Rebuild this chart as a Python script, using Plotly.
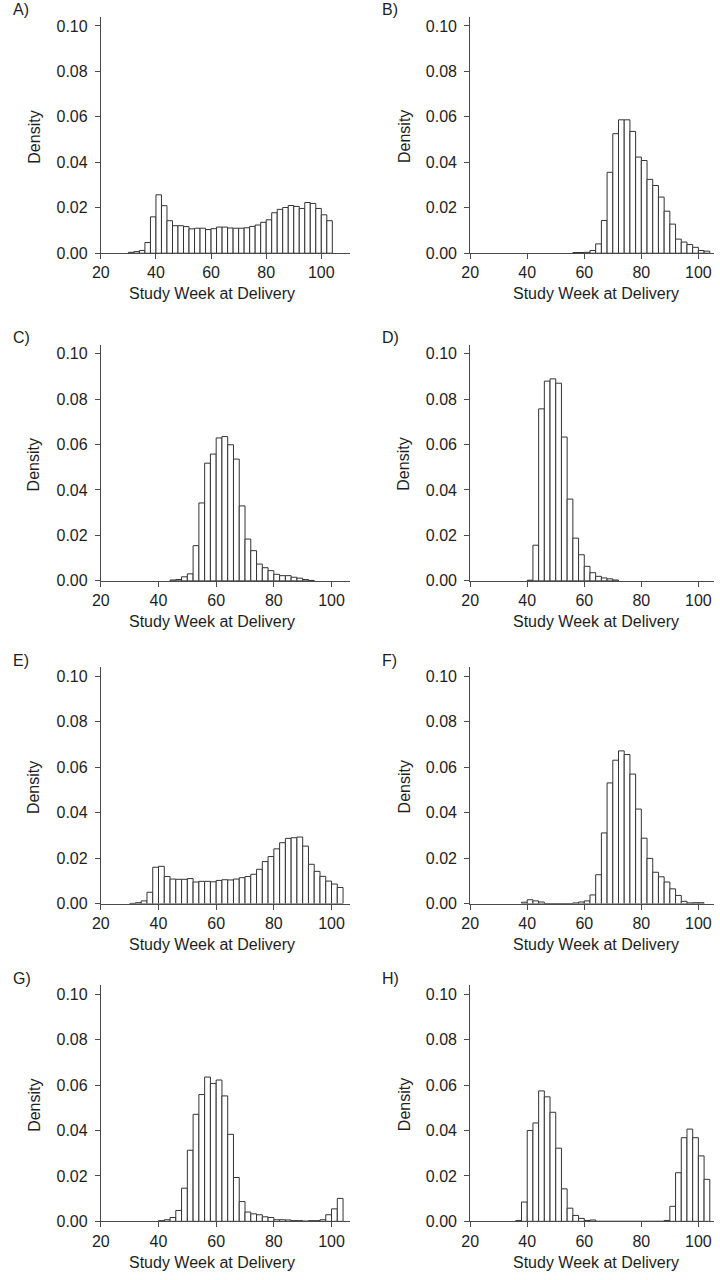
import plotly.graph_objects as go

# ---- Data: histogram densities, bin width 2 weeks; *_start = left edge of first bin ----
bin_width = 2
x_ticks = [20, 40, 60, 80, 100]
y_ticks = [0.00, 0.02, 0.04, 0.06, 0.08, 0.10]
y_tick_labels = ["0.00", "0.02", "0.04", "0.06", "0.08", "0.10"]
panel_labels = ["A)", "B)", "C)", "D)", "E)", "F)", "G)", "H)"]

A_start = 30
A_density = [0.0004, 0.0007, 0.0012, 0.0047, 0.0160, 0.0257, 0.0209, 0.0143, 0.0121, 0.0121,
             0.0117, 0.0107, 0.0110, 0.0110, 0.0104, 0.0108, 0.0115, 0.0115, 0.0111, 0.0110,
             0.0110, 0.0112, 0.0118, 0.0124, 0.0136, 0.0147, 0.0178, 0.0193, 0.0201, 0.0210,
             0.0206, 0.0197, 0.0223, 0.0219, 0.0197, 0.0169, 0.0143]

B_start = 56
B_density = [0.0003, 0.0003, 0.0004, 0.0012, 0.0041, 0.0144, 0.0356, 0.0526, 0.0587, 0.0587,
             0.0536, 0.0423, 0.0408, 0.0325, 0.0298, 0.0247, 0.0185, 0.0128, 0.0062, 0.0049,
             0.0038, 0.0026, 0.0012, 0.0009]

C_start = 44
C_density = [0.0004, 0.0006, 0.0018, 0.0031, 0.0155, 0.0343, 0.0518, 0.0558, 0.0629, 0.0635,
             0.0599, 0.0536, 0.0330, 0.0184, 0.0133, 0.0074, 0.0058, 0.0045, 0.0029, 0.0023,
             0.0023, 0.0016, 0.0012, 0.0006, 0.0002]

D_start = 40
D_density = [0.0003, 0.0157, 0.0757, 0.0879, 0.0889, 0.0870, 0.0633, 0.0360, 0.0188, 0.0115,
             0.0064, 0.0036, 0.0020, 0.0013, 0.0009, 0.0004]

E_start = 30
E_density = [0.0001, 0.0004, 0.0012, 0.0050, 0.0160, 0.0164, 0.0119, 0.0108, 0.0107, 0.0107,
             0.0110, 0.0095, 0.0098, 0.0098, 0.0096, 0.0102, 0.0105, 0.0104, 0.0108, 0.0114,
             0.0119, 0.0129, 0.0151, 0.0185, 0.0207, 0.0241, 0.0268, 0.0287, 0.0290, 0.0293,
             0.0253, 0.0173, 0.0142, 0.0120, 0.0099, 0.0086, 0.0071]

F_start = 38
F_density = [0.0006, 0.0017, 0.0012, 0.0007, 0.0, 0.0, 0.0, 0.0, 0.0,
             0.0003, 0.0007, 0.0012, 0.0038, 0.0127, 0.0311, 0.0531, 0.0631, 0.0672, 0.0656,
             0.0570, 0.0416, 0.0288, 0.0199, 0.0138, 0.0118, 0.0095, 0.0065, 0.0036, 0.0010,
             0.0003, 0.0004, 0.0004]

G_start = 40
G_density = [0.0003, 0.0007, 0.0017, 0.0048, 0.0146, 0.0313, 0.0471, 0.0558, 0.0635, 0.0607,
             0.0622, 0.0552, 0.0383, 0.0193, 0.0087, 0.0041, 0.0033, 0.0029, 0.0020, 0.0017,
             0.0007, 0.0007, 0.0006, 0.0003, 0.0003, 0.0001, 0.0003, 0.0003, 0.0007, 0.0029,
             0.0055, 0.0101]

H_start = 36
H_density = [0.0004, 0.0085, 0.0400, 0.0433, 0.0574, 0.0548, 0.0480, 0.0322, 0.0143, 0.0058,
             0.0026, 0.0013, 0.0004, 0.0006, 0.0, 0.0, 0.0, 0.0, 0.0, 0.0,
             0.0, 0.0, 0.0, 0.0, 0.0, 0.0, 0.0004, 0.0066, 0.0214, 0.0368,
             0.0406, 0.0368, 0.0288, 0.0185]

panels = [(A_start, A_density), (B_start, B_density), (C_start, C_density), (D_start, D_density),
          (E_start, E_density), (F_start, F_density), (G_start, G_density), (H_start, H_density)]

# ---- Layout geometry (pixels) ----
W, H = 720, 1280
row_base = [255, 585, 910, 1230]       # pixel y of density 0 for each row
plot_h = 238                           # pixel height of plot area (0 .. 0.104)
col_x = [(93, 345), (467, 714)]        # pixel x extent of each column
x_ranges = [[20, 110.3], [20, 105.5], [20, 106.3], [20, 105.5],
            [20, 106.3], [20, 105.5], [20, 106.3], [20, 105.5]]
title_cx = [206, 594]
density_cx = [25, 400]
letter_x = [2, 376]

FONT = "Liberation Sans, Arial, Helvetica, sans-serif"
TXT = "#1e1e1e"
LINE = "#4a4a4a"

fig = go.Figure()
layout = dict(width=W, height=H, margin=dict(l=0, r=0, t=0, b=0), autosize=False,
              paper_bgcolor="white", plot_bgcolor="white", showlegend=False,
              font=dict(family=FONT, size=16, color=TXT), bargap=0)
annotations = []

for i, (start, dens) in enumerate(panels):
    r, c = divmod(i, 2)
    b = row_base[r]
    x0, x1 = col_x[c]
    n = i + 1
    xa = "x" if n == 1 else f"x{n}"
    ya = "y" if n == 1 else f"y{n}"
    centers = [start + bin_width * k + bin_width / 2 for k in range(len(dens))]
    fig.add_trace(go.Bar(x=centers, y=dens, width=bin_width, xaxis=xa, yaxis=ya,
                         marker=dict(color="white", line=dict(color="#333333", width=1)),
                         hoverinfo="x+y"))
    ydom = [(H - b) / H, (H - b + plot_h) / H]
    xdom = [x0 / W, x1 / W]
    layout["xaxis" if n == 1 else f"xaxis{n}"] = dict(
        domain=xdom, range=x_ranges[i], anchor=ya, showline=True, linecolor=LINE, linewidth=1,
        ticks="outside", ticklen=5, tickcolor=LINE, tickwidth=1, tickvals=x_ticks,
        showgrid=False, zeroline=False, tickfont=dict(size=16, color=TXT, family=FONT),
        fixedrange=True)
    layout["yaxis" if n == 1 else f"yaxis{n}"] = dict(
        domain=ydom, range=[0, 0.104], anchor=xa, showline=True, linecolor=LINE, linewidth=1,
        ticks="outside", ticklen=5, tickcolor=LINE, tickwidth=1, tickvals=y_ticks,
        ticktext=y_tick_labels, showgrid=False, zeroline=False, ticklabelstandoff=4,
        tickfont=dict(size=16, color=TXT, family=FONT), fixedrange=True)
    annotations.append(dict(text="Study Week at Delivery", xref="paper", yref="paper",
                            x=title_cx[c] / W, y=(H - (b + 41)) / H, xanchor="center",
                            yanchor="middle", showarrow=False, font=dict(size=16, color=TXT)))
    annotations.append(dict(text="Density", xref="paper", yref="paper", textangle=-90,
                            x=density_cx[c] / W, y=(H - (b - 117)) / H, xanchor="center",
                            yanchor="middle", showarrow=False, font=dict(size=16, color=TXT)))
    annotations.append(dict(text=panel_labels[i], xref="paper", yref="paper",
                            x=letter_x[c] / W, y=(H - (b - 245)) / H, xanchor="left",
                            yanchor="middle", showarrow=False, font=dict(size=16, color=TXT)))

layout["annotations"] = annotations
fig.update_layout(**layout)
fig.write_html("out.html", config={"displayModeBar": False, "staticPlot": True},
               post_script="document.body.style.margin='0';document.body.style.overflow='hidden';")
